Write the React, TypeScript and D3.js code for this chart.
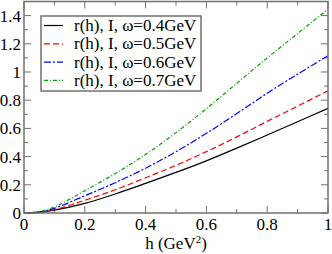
import { useEffect, useRef } from "react";
import * as d3 from "d3";

// values
const hValues = [0, 0.05, 0.1, 0.2, 0.3, 0.4, 0.5, 0.6, 0.7, 0.8, 0.9, 1.0];
const omega04 = [0, 0.005, 0.02, 0.068, 0.135, 0.21, 0.288, 0.37, 0.46, 0.553, 0.647, 0.742];
const omega05 = [0, 0.006, 0.024, 0.09, 0.165, 0.25, 0.338, 0.435, 0.54, 0.65, 0.758, 0.867];
const omega06 = [0, 0.008, 0.033, 0.122, 0.215, 0.318, 0.435, 0.565, 0.705, 0.85, 0.985, 1.115];
const omega07 = [0, 0.01, 0.043, 0.158, 0.28, 0.415, 0.57, 0.74, 0.92, 1.1, 1.273, 1.445];

const seriesLabels = [
  "r(h), I, \u03c9=0.4GeV",
  "r(h), I, \u03c9=0.5GeV",
  "r(h), I, \u03c9=0.6GeV",
  "r(h), I, \u03c9=0.7GeV",
];
const xTicks = [0, 0.2, 0.4, 0.6, 0.8, 1];
const yTicks = [0, 0.2, 0.4, 0.6, 0.8, 1, 1.2, 1.4];

const colors = ["#000000", "#ff0000", "#0000ff", "#00a000"];
const dashes = ["", "6,3", "7,2,2,2", "4,2,1,2"];

export default function App() {
  const ref = useRef<SVGSVGElement>(null);

  useEffect(() => {
    const width = 332;
    const height = 254;
    const margin = { top: 1.5, right: 4, bottom: 41, left: 24 };
    const w = width - margin.left - margin.right;
    const h = height - margin.top - margin.bottom;

    const svg = d3
      .select(ref.current)
      .attr("width", width)
      .attr("height", height)
      .attr("font-family", "Liberation Serif")
      .attr("font-size", 17);
    svg.selectAll("*").remove();

    const g = svg.append("g").attr("transform", `translate(${margin.left},${margin.top})`);

    const x = d3.scaleLinear().domain([0, 1]).range([0, w]);
    const y = d3.scaleLinear().domain([0, 1.5]).range([h, 0]);

    const frame = "#707070";

    // ticks on all four sides, pointing in
    const minorX = d3.range(0, 1.001, 0.1);
    const minorY = d3.range(0, 1.501, 0.1);
    const tickG = g.append("g").attr("stroke", frame).attr("stroke-width", 1);
    minorX.forEach((v) => {
      const major = xTicks.some((t) => Math.abs(t - v) < 1e-6);
      const len = major ? 7 : 4;
      tickG.append("line").attr("x1", x(v)).attr("x2", x(v)).attr("y1", h).attr("y2", h - len);
      tickG.append("line").attr("x1", x(v)).attr("x2", x(v)).attr("y1", 0).attr("y2", len);
    });
    minorY.forEach((v) => {
      const major = yTicks.some((t) => Math.abs(t - v) < 1e-6);
      const len = major ? 7 : 4;
      tickG.append("line").attr("x1", 0).attr("x2", len).attr("y1", y(v)).attr("y2", y(v));
      tickG.append("line").attr("x1", w).attr("x2", w - len).attr("y1", y(v)).attr("y2", y(v));
    });

    // tick labels
    g.selectAll(".xl")
      .data(xTicks)
      .enter()
      .append("text")
      .attr("x", (d) => x(d))
      .attr("y", h + 17)
      .attr("text-anchor", "middle")
      .text((d) => String(d));

    g.selectAll(".yl")
      .data(yTicks)
      .enter()
      .append("text")
      .attr("x", -3)
      .attr("y", (d) => y(d))
      .attr("dy", "0.35em")
      .attr("text-anchor", "end")
      .text((d) => String(d));

    // axis title
    const title = g
      .append("text")
      .attr("x", w / 2)
      .attr("y", h + 36)
      .attr("text-anchor", "middle");
    title.append("tspan").text("h (GeV");
    title.append("tspan").attr("dy", -6).attr("font-size", 11).text("2");
    title.append("tspan").attr("dy", 6).text(")");

    // curves
    const series = [omega04, omega05, omega06, omega07];
    const line = d3
      .line<number>()
      .x((_, i) => x(hValues[i]))
      .y((d) => y(d))
      .curve(d3.curveCatmullRom);

    series.forEach((s, i) => {
      g.append("path")
        .attr("d", line(s))
        .attr("fill", "none")
        .attr("stroke", colors[i])
        .attr("stroke-width", 1.2)
        .attr("stroke-dasharray", dashes[i]);
    });

    // frame
    g.append("rect")
      .attr("x", 0)
      .attr("y", 0)
      .attr("width", w)
      .attr("height", h)
      .attr("fill", "none")
      .attr("stroke", frame)
      .attr("stroke-width", 1.5);

    // legend
    const lg = svg.append("g").attr("transform", "translate(41,16)");
    lg.append("rect")
      .attr("width", 160)
      .attr("height", 75)
      .attr("fill", "white")
      .attr("stroke", frame)
      .attr("stroke-width", 1.5);
    seriesLabels.forEach((label, i) => {
      const cy = 9.5 + i * 18.3;
      lg.append("line")
        .attr("x1", 3)
        .attr("x2", 22)
        .attr("y1", cy)
        .attr("y2", cy)
        .attr("stroke", colors[i])
        .attr("stroke-width", 1.2)
        .attr("stroke-dasharray", dashes[i]);
      lg.append("text")
        .attr("x", 33)
        .attr("y", cy)
        .attr("dy", "0.33em")
        .text(label);
    });
  }, []);

  return (
    <svg
      ref={ref}
      style={{ position: "absolute", left: 0, top: 0, background: "white" }}
    />
  );
}
